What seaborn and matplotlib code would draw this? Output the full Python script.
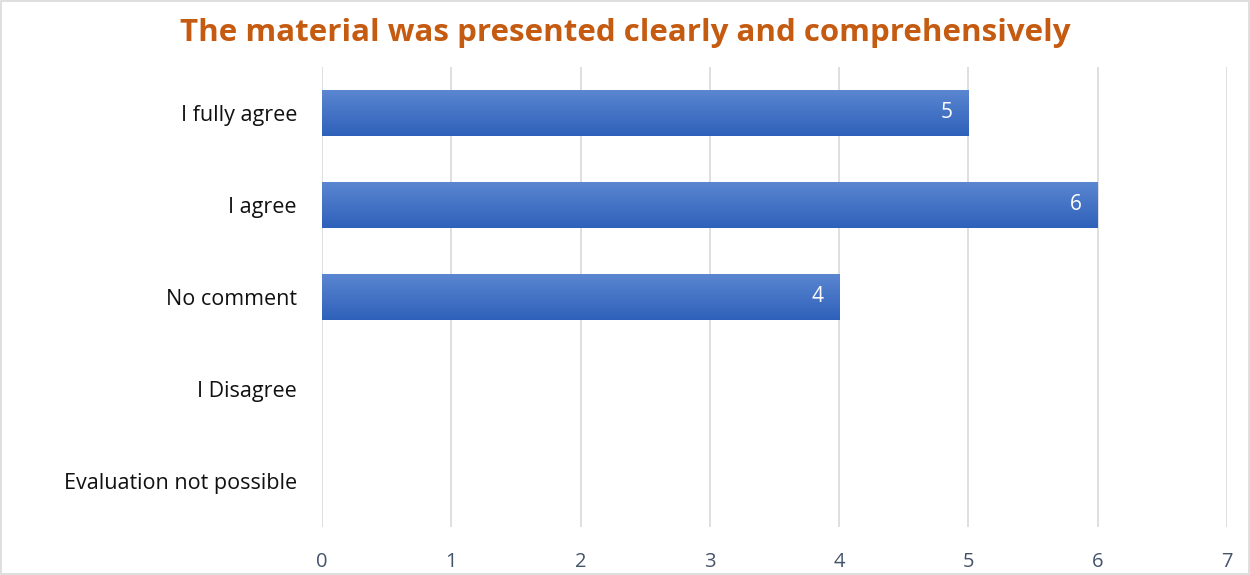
import matplotlib
matplotlib.use("Agg")
import matplotlib.pyplot as plt
import numpy as np
import pandas as pd
import seaborn as sns

categories = ["I fully agree", "I agree", "No comment", "I Disagree", "Evaluation not possible"]
counts = [5, 6, 4, 0, 0]
x_ticks = [0, 1, 2, 3, 4, 5, 6, 7]
title = "The material was presented clearly and comprehensively"

df = pd.DataFrame({"answer": categories, "count": counts})

sns.set_theme(style="white")
plt.rcParams["font.family"] = ["Open Sans", "DejaVu Sans"]

fig = plt.figure(figsize=(12.5, 5.75), dpi=100)
ax = fig.add_axes([0.2576, 0.0835, 0.724, 0.80])

sns.barplot(data=df, x="count", y="answer", order=categories, color="#4472C4",
            width=0.5, ax=ax, zorder=3)

# vertical gradient fill inside each bar
grad = np.linspace(0, 1, 256).reshape(-1, 1)
cmap = matplotlib.colors.LinearSegmentedColormap.from_list("bar", ["#5B86D1", "#2E61BA"])
for patch in list(ax.patches):
    patch.set_edgecolor("none")
    patch.set_linewidth(0)
    w = patch.get_width()
    if w <= 0:
        patch.set_visible(False)
        continue
    x0, y0 = patch.get_x(), patch.get_y()
    h = patch.get_height()
    im = ax.imshow(grad, cmap=cmap, aspect="auto", extent=(x0, x0 + w, y0 + h, y0),
                   zorder=4, origin="upper")
    im.set_clip_path(patch)
    patch.set_facecolor("none")

for i, v in enumerate(counts):
    if v > 0:
        ax.text(v - 0.12, i, str(v), ha="right", va="center", color="white",
                fontsize=15, zorder=5)

ax.set_xlim(0, 7)
ax.set_ylim(len(categories) - 0.5, -0.5)
ax.set_xticks(x_ticks)
ax.set_xticklabels([str(t) for t in x_ticks], color="#44546A", fontsize=14.5)
ax.tick_params(axis="x", length=0, pad=18)
ax.tick_params(axis="y", length=0, pad=18, labelsize=15.5, labelcolor="#111111")
ax.grid(axis="x", color="#D9D9D9", linewidth=1.2, zorder=0)
ax.grid(axis="y", visible=False)
for s in ax.spines.values():
    s.set_visible(False)
ax.set_xlabel("")
ax.set_ylabel("")

fig.text(0.5, 0.943, title, ha="center", va="center", fontsize=22.5, fontweight="bold",
         color="#C55A11")

# light frame around the whole chart
fig.patches.append(matplotlib.patches.Rectangle((0.001, 0.001), 0.998, 0.998,
                                                transform=fig.transFigure, fill=False,
                                                edgecolor="#D9D9D9", linewidth=1.2))

fig.savefig("out.png", dpi=100)
